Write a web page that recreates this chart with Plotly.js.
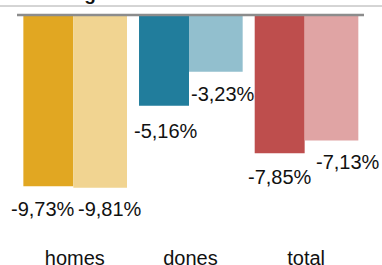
<!DOCTYPE html>
<html>
<head>
<meta charset="utf-8">
<script src="https://cdn.plot.ly/plotly-3.0.1.min.js"></script>
<style>html,body{margin:0;padding:0;background:#fff;}#chart{width:382px;height:265px;}</style>
</head>
<body>
<div id="chart"></div>
<script>
var categories = ["homes", "dones", "total"];
var seriesA = [-9.73, -5.16, -7.85];
var seriesB = [-9.81, -3.23, -7.13];
var labelsA = ["-9,73%", "-5,16%", "-7,85%"];
var labelsB = ["-9,81%", "-3,23%", "-7,13%"];
var colorsA = ["#E1A722", "#217D9C", "#BE4E4D"];
var colorsB = ["#F1D491", "#92BFCE", "#E0A4A4"];
var titleText = "Atur registrat";

var FONT = "Liberation Sans, Arial, sans-serif";

var traceA = {
  type: "bar", x: categories, y: seriesA,
  marker: {color: colorsA, line: {width: 0}},
  width: 0.432, offset: -0.445, hoverinfo: "none"
};
var traceB = {
  type: "bar", x: categories, y: seriesB,
  marker: {color: colorsB, line: {width: 0}},
  width: 0.464, offset: -0.013, hoverinfo: "none"
};

var shiftA = [-32, -25, -26];
var shiftB = [35, 32, 42];
var yshA = [-23, -25, -24];
var yshB = [-21, -22, -21];

var annotations = [];
categories.forEach(function (c, i) {
  annotations.push({x: c, y: seriesA[i], xref: "x", yref: "y", text: labelsA[i], showarrow: false,
    xshift: shiftA[i], yshift: yshA[i], yanchor: "middle", font: {family: FONT, size: 20, color: "#111"}});
  annotations.push({x: c, y: seriesB[i], xref: "x", yref: "y", text: labelsB[i], showarrow: false,
    xshift: shiftB[i], yshift: yshB[i], yanchor: "middle", font: {family: FONT, size: 20, color: "#111"}});
});
annotations.push({x: 0.009, y: 1 + 15/229, xref: "paper", yref: "paper", text: "<b>" + titleText + "</b>",
  showarrow: false, xanchor: "left", yanchor: "bottom", yshift: -6, font: {family: FONT, size: 19, color: "#111"}});

var layout = {
  width: 382, height: 265,
  margin: {l: 17, r: 18, t: 15, b: 21},
  paper_bgcolor: "#fff", plot_bgcolor: "#fff",
  barmode: "overlay",
  showlegend: false,
  xaxis: {type: "category", range: [-0.5, 2.5], showgrid: false, zeroline: false, showline: false, ticks: "",
    tickfont: {family: FONT, size: 20, color: "#111"}, fixedrange: true},
  yaxis: {range: [-13.01, 0], showgrid: false, zeroline: false, showline: false,
    showticklabels: false, ticks: "", fixedrange: true},
  shapes: [
    {type: "line", xref: "paper", yref: "paper", x0: 0, x1: 1, y0: 1, y1: 1,
      line: {color: "#8C8C8C", width: 2.5}},
    {type: "line", xref: "paper", yref: "paper", x0: -0.1, x1: 1.1, y0: 1 + 9/229, y1: 1 + 9/229,
      line: {color: "#AAAAAA", width: 1}}
  ],
  annotations: annotations
};

Plotly.newPlot("chart", [traceA, traceB], layout, {staticPlot: true, displayModeBar: false});
</script>
</body>
</html>
